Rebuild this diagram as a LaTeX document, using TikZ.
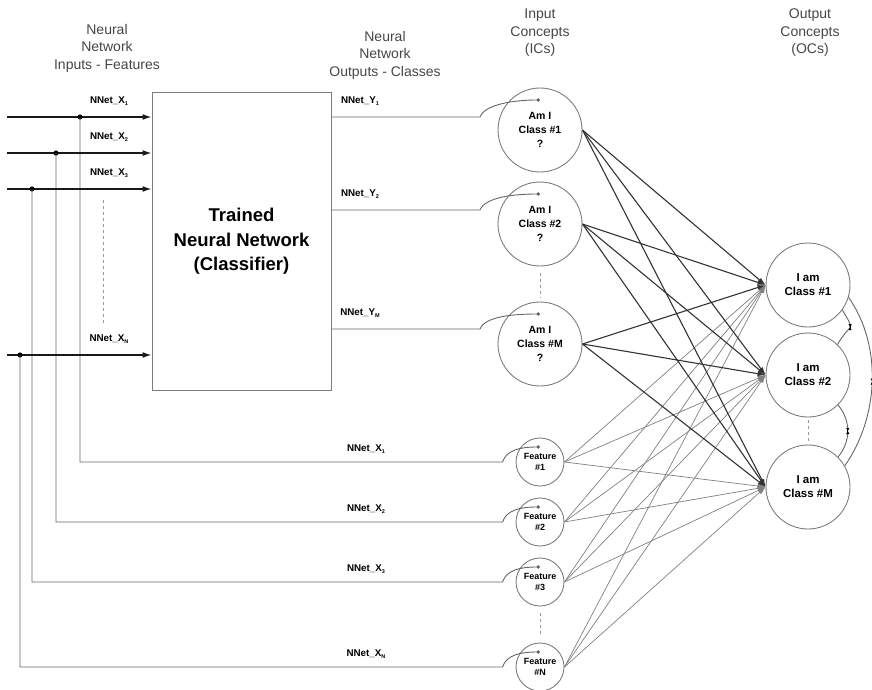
\documentclass[tikz,border=0pt]{standalone}
\usepackage{fontspec}
\setmainfont{Liberation Sans}
\usetikzlibrary{arrows.meta,positioning,calc}
\definecolor{ngray}{RGB}{70,70,70}
\definecolor{cgray}{RGB}{125,125,125}
\newcommand{\nsub}[1]{\raisebox{-1.8pt}{\fontsize{5.5}{5.5}\selectfont #1}}

\begin{document}
\begin{tikzpicture}[
  x=1pt,y=-1pt,
  hdr/.style={align=center,font=\fontsize{14}{17.5}\selectfont,text=ngray},
  lbl/.style={font=\fontsize{9.8}{11}\selectfont\bfseries,inner sep=0pt},
  nnbox/.style={draw=cgray,line width=1pt,minimum width=179pt,minimum height=297pt,align=center,
    font=\fontsize{18.5}{24.5}\selectfont\bfseries},
  icnode/.style={circle,draw=cgray,line width=0.9pt,minimum size=84pt,inner sep=0pt,align=center,
    font=\fontsize{10.5}{14}\selectfont\bfseries},
  ocnode/.style={icnode,font=\fontsize{11.5}{14}\selectfont\bfseries},
  fnode/.style={circle,draw=cgray,line width=0.9pt,minimum size=48pt,inner sep=0pt,align=center,
    font=\fontsize{9}{11}\selectfont\bfseries},
  inarr/.style={-{Latex[length=9pt,width=6pt]},line width=1.4pt,black!90},
  feed/.style={line width=0.9pt,black!60},
  tap/.style={-{Circle[length=3.5pt]}},
  icarr/.style={-{Latex[length=8pt,width=5pt]},line width=1.1pt,black!80},
  farr/.style={-{Latex[length=8pt,width=5pt]},line width=0.7pt,black!50},
  gap/.style={dashed,line width=0.7pt,black!40},
  hglass/.style={{Latex[reversed,length=3pt,width=3.5pt]}-{Latex[reversed,length=3pt,width=3.5pt]},line width=0.8pt},
  ]
  \useasboundingbox (0,0) rectangle (872,690);
  \node[hdr] (hin) at (107,48) {Neural\\Network\\Inputs - Features};
  \node[hdr] (hout) at (385,55) {Neural\\Network\\Outputs - Classes};
  \node[hdr] (hic) at (540,33) {Input\\Concepts\\(ICs)};
  \node[hdr] (hoc) at (810,33) {Output\\Concepts\\(OCs)};

  \node[nnbox] (nn) at (241.5,241.5) {Trained\\Neural Network\\(Classifier)};

  \node[icnode] (ic1) at (540,130) {Am I\\Class \#1\\?};
  \node[icnode] (ic2) at (540,224) {Am I\\Class \#2\\?};
  \node[icnode] (icm) at (540,344) {Am I\\Class \#M\\?};
  \node[ocnode] (oc1) at (808,285) {I am\\Class \#1};
  \node[ocnode] (oc2) at (808,375) {I am\\Class \#2};
  \node[ocnode] (ocm) at (808,487) {I am\\Class \#M};

  \foreach \n/\t/\y/\x/\fy in {1/1/117/80/462,2/2/153/56/522,3/3/189/32/582,n/N/355/20/667}{
    \node[fnode] (f\n) at (540,\fy) {Feature\\\#\t};
    \coordinate (x\n) at (7,\y);
    \coordinate (t\n) at (\x,\y);
    \draw[inarr] (x\n) -- (x\n -| nn.west);
    \fill (t\n) circle (2.6pt);
    \node[lbl] at (109,\y-16) {NNet\_X\nsub{\t}};
    \node[lbl] at (366,\fy-13) {NNet\_X\nsub{\t}};
    \draw[feed,tap] (t\n) |- ([xshift=-13pt]f\n.west)
      .. controls +(4,-12) and +(-20,0) .. ([yshift=15pt]f\n.center);
  }

  \foreach \n/\t/\y in {1/1/117,2/2/210,m/M/329}{
    \coordinate (y\n) at (480,\y);
    \draw[feed,tap] (y\n -| nn.east) -- (y\n)
      .. controls +(5,-13) and +(-25,0) .. ([yshift=30pt]ic\n.center);
    \node[lbl] at (360,\y-16) {NNet\_Y\nsub{\t}};
  }

  \foreach \s in {f1,f2,f3,fn}
    \foreach \d in {oc1,oc2,ocm}
      \draw[farr] (\s.east) -- (\d.west);
  \foreach \s in {ic1,ic2,icm}
    \foreach \d in {oc1,oc2,ocm}
      \draw[icarr] (\s.east) -- (\d.west);

  \draw[gap] (103,200) -- (103,323);
  \draw[gap] ([yshift=-7pt]ic2.south) -- ([yshift=4pt]icm.north);
  \draw[gap] ([yshift=-7pt]f3.south) -- ([yshift=6pt]fn.north);
  \draw[gap] ([yshift=-3pt]oc2.south) -- ([yshift=3pt]ocm.north);

  \draw[feed] (oc1.-36) to[out=-60,in=60,looseness=2] coordinate[pos=.5] (h1) (oc2.46);
  \draw[feed] (oc2.-45) to[out=-50,in=50,looseness=1] coordinate[pos=.5] (h2) (ocm.45);
  \draw[feed] (oc1.-17) to[out=-55,in=55,looseness=0.9] coordinate[pos=.5] (h3) (ocm.30);
  \foreach \h in {h1,h2,h3}
    \draw[hglass] ([yshift=3pt]\h) -- ([yshift=-3pt]\h);
\end{tikzpicture}
\end{document}
